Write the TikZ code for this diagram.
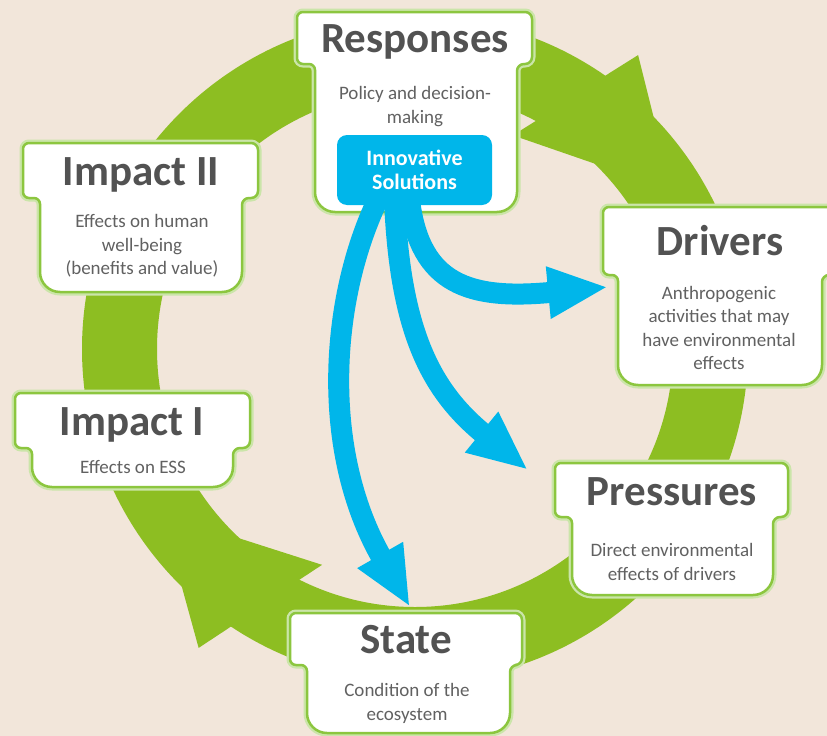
\documentclass[tikz,border=0pt]{standalone}
\usepackage{fontspec}
\setmainfont{Carlito}
\usetikzlibrary{arrows.meta,calc}

\definecolor{bgbeige}{HTML}{F2E6DA}
\definecolor{ringgreen}{HTML}{8DBE22}
\definecolor{edgegreen}{HTML}{8CC63F}
\definecolor{skyblue}{HTML}{00B6EA}
\definecolor{titlegrey}{HTML}{525252}
\definecolor{subgrey}{HTML}{616161}

\tikzset{
  potbox/.style={fill=white, draw=edgegreen, line width=2.5pt,
    preaction={draw=edgegreen!45, line width=7pt}},
  boxtitle/.style={font=\bfseries\fontsize{43}{45}\selectfont, text=titlegrey, anchor=base, inner sep=0pt},
  boxtext/.style={font=\fontsize{19}{23.5}\selectfont, text=subgrey, align=center, inner sep=0pt},
  innovbox/.style={fill=skyblue, rounded corners=10pt, minimum width=155pt, minimum height=70pt,
    text=white, font=\bfseries\fontsize{22}{24}\selectfont, align=center, inner sep=0pt},
  bluearrow/.style={draw=skyblue, line width=21pt, -{Triangle[length=60pt,width=48pt]}}
}

% header left, header right, header top, header bottom, body left, body right, body bottom
\newcommand\potshape[7]{%
  \draw[potbox] ({(#1+#2)/2},#3) [rounded corners=7pt] -- (#2,#3) -- (#2,#4) -- (#6,#4)
    [rounded corners=20pt] -- (#6,#7) -- (#5,#7) [rounded corners=6pt] -- (#5,#4) -- (#1,#4) -- (#1,#3) -- cycle;}

\begin{document}
\begin{tikzpicture}[x=1pt,y=-1pt]
  \useasboundingbox (0,0) rectangle (827,736);
  \clip (0,0) rectangle (827,736);
  \fill[bgbeige] (0,0) rectangle (827,736);

  % green cycle
  \begin{scope}[shift={(415,349)}]
    \fill[ringgreen,even odd rule] (0,0) circle (333pt) (0,0) circle (258pt);
    \fill[ringgreen] (31.7:302pt) -- (52.8:369pt) -- (54.8:338pt) -- (61.6:262pt) -- (65.4:235pt) -- cycle;
    \fill[ringgreen] (213:302pt) -- (234.1:369pt) -- (236.1:338pt) -- (242.9:262pt) -- (246.7:235pt) -- cycle;
  \end{scope}

  % boxes
  \potshape{297}{532}{12}{64}{315}{517}{212}
  \potshape{603}{837}{207}{275}{618}{822}{385}
  \potshape{555}{788}{463}{517}{572}{773}{595}
  \potshape{290}{522}{613}{665}{307}{510}{733}
  \potshape{15}{250}{393}{448}{32}{233}{487}
  \potshape{23}{258}{143}{198}{40}{242}{292}

  \node[boxtitle] (resp) at (415,52) {Responses};
  \node[boxtext] (respsub) at (415,106.5) {Policy and decision-\\making};
  \node[boxtitle] (drv) at (720,255) {Drivers};
  \node[boxtext] (drvsub) at (719,328) {Anthropogenic\\activities that may\\have environmental\\effects};
  \node[boxtitle] (prs) at (672,505) {Pressures};
  \node[boxtext] (prssub) at (672,562) {Direct environmental\\effects of drivers};
  \node[boxtitle] (st) at (406,653) {State};
  \node[boxtext] (stsub) at (407,703.5) {Condition of the\\ecosystem};
  \node[boxtitle] (imp1) at (132,435) {Impact I};
  \node[boxtext] (imp1sub) at (133,467) {Effects on ESS};
  \node[boxtitle] (imp2) at (141,185) {Impact II};
  \node[boxtext] (imp2sub) at (142,246) {Effects on human\\well-being\\(benefits and value)};

  % innovation arrows
  \node[innovbox] (innov) at (414.5,170) {Innovative\\Solutions};
  \coordinate (tipD) at (608,287);
  \coordinate (tipP) at (528,470);
  \coordinate (tipS) at (410,607);
  \draw[bluearrow] ($(innov.south)+(-5,-5)$) .. controls (420,285) and (470,300) .. (tipD);
  \draw[bluearrow] ($(innov.south)+(-20,-5)$) .. controls (400,330) and (430,390) .. (tipP);
  \draw[bluearrow] ($(innov.south)+(-37,-5)$) .. controls (330,300) and (320,450) .. (tipS);
\end{tikzpicture}
\end{document}
